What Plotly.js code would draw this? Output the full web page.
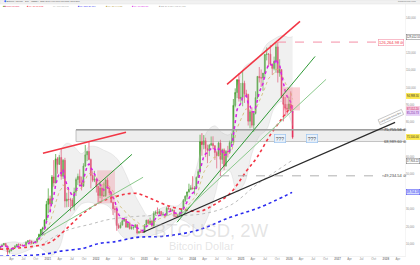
<!DOCTYPE html>
<html><head><meta charset="utf-8">
<script src="https://cdn.plot.ly/plotly-3.0.1.min.js"></script>
<style>html,body{margin:0;padding:0;background:#fff;}#chart{width:420px;height:265px;}</style>
</head><body><div id="chart"></div>
<script>
// ---- 2-week BTCUSD bars (values in thousands USD), first bar 2020-01-06 ----
const firstBar = '2020-01-06';
const opens = [7.4,8.7,9.4,10.3,8.6,5.4,5.9,6.9,7.7,8.7,9.7,9.5,9.3,9.1,9.2,11.0,11.8,11.7,10.3,10.7,11.4,13.0,15.5,18.4,19.2,23.8,
32.8,36.0,33.1,48.6,45.1,59.0,55.8,59.8,49.0,58.2,34.7,35.8,35.5,35.3,31.8,39.9,47.1,48.9,45.2,43.2,54.9,61.3,63.3,58.6,49.4,46.7,
47.3,43.1,37.9,42.2,37.7,37.8,46.8,42.2,39.4,34.0,30.3,29.9,20.6,19.3,20.8,23.3,24.3,19.6,21.8,18.8,19.4,19.6,20.9,16.3,17.1,16.7,
16.6,20.9,23.7,21.8,23.2,20.6,27.5,28.3,27.6,28.7,26.8,27.1,26.3,30.6,30.3,29.3,29.4,26.0,25.8,26.3,27.9,30.0,35.0,37.4,39.9,41.4,
42.3,41.7,42.0,48.3,51.7,68.9,67.2,69.4,64.9,63.9,66.9,67.8,66.6,62.7,60.8,68.2,58.7,64.2,54.8,63.3,63.0,68.4,68.7,89.8,97.2,104.5,
93.7,94.5,102.6,96.5,96.1,80.7,86.1,78.4,85.2,94.3,106.5,105.7,105.6,108.4,119.1,119.4,119.3,113.5,111.1,115.2,123.5,108.6,110.5,94.5,90.4,88.2,
87.8,90.6,86.6];
const highs = [8.9,9.6,10.4,10.5,9.2,6.9,7.3,7.8,9.4,10.0,10.4,10.0,9.8,9.4,11.4,12.1,12.5,11.8,11.2,11.7,13.3,15.9,18.5,19.9,24.2,34.8,
42.0,37.8,49.7,58.3,61.8,60.0,61.2,64.9,58.9,59.6,39.5,41.3,36.6,36.4,42.4,48.2,50.5,52.9,48.8,56.5,67.0,63.7,69.0,59.2,51.9,52.1,
47.9,43.5,45.8,44.5,45.4,47.6,48.2,42.4,40.0,34.2,32.0,31.6,21.8,22.5,24.3,25.2,24.4,22.4,22.8,20.4,20.0,21.5,21.5,17.4,18.4,17.1,
21.4,23.9,24.2,25.2,23.9,28.8,29.2,31.0,30.0,29.0,28.4,27.1,31.4,31.8,30.4,30.2,29.7,28.1,27.4,28.6,30.2,35.9,38.0,40.2,44.7,43.8,
49.0,43.3,48.9,52.9,72.9,73.8,72.7,71.2,67.2,67.6,71.9,72.0,66.8,63.7,68.9,70.0,64.9,65.1,64.1,66.5,69.5,73.6,93.5,99.6,105.0,108.3,
102.7,109.6,104.0,98.8,96.5,87.4,88.7,86.0,97.9,106.7,111.9,110.5,108.5,119.5,123.2,119.8,124.5,114.0,117.9,125.7,126.26,116.4,110.6,96.6,94.6,90.5,
94.8,97.9,90.0];
const lows = [7.0,8.2,9.1,8.2,3.8,4.5,5.9,6.5,7.6,8.2,8.6,9.0,8.9,8.9,9.1,10.6,11.1,9.9,10.2,10.5,11.2,12.9,14.8,16.2,18.0,21.8,
27.7,28.8,33.0,43.0,44.9,50.4,55.8,47.0,47.4,31.0,31.1,31.3,28.8,31.1,29.3,37.6,43.9,43.0,40.8,42.9,54.3,57.7,58.2,42.0,45.6,45.6,
39.6,33.0,36.3,34.3,37.1,37.1,41.6,38.0,33.7,26.7,28.0,17.6,18.6,18.9,20.8,22.7,19.6,19.5,18.3,18.2,18.2,19.3,15.5,15.9,16.3,16.4,
16.5,20.4,21.6,21.5,19.6,19.9,26.6,26.9,26.9,25.9,25.9,24.8,26.3,29.7,29.0,28.6,25.2,25.4,24.9,26.1,26.6,29.9,34.1,35.6,39.6,41.0,
41.5,38.5,41.7,48.3,50.6,60.8,64.5,60.0,56.5,60.6,66.6,64.5,58.4,53.5,60.5,49.0,56.1,52.5,54.8,59.8,62.0,66.6,66.8,88.7,94.0,92.0,
91.2,89.3,91.2,94.9,78.2,76.6,77.0,74.5,84.6,93.4,103.0,100.4,98.2,105.3,115.7,112.0,112.6,107.3,110.0,108.6,103.0,106.3,94.0,80.6,83.8,84.4,
86.9,86.0,70.5];
const closes = [8.7,9.4,10.3,8.6,5.4,5.9,6.9,7.7,8.7,9.7,9.5,9.3,9.1,9.2,11.0,11.8,11.7,10.3,10.7,11.4,13.0,15.5,18.4,19.2,23.8,32.8,
36.0,33.1,48.6,45.1,59.0,55.8,59.8,49.0,58.2,34.7,35.8,35.5,35.3,31.8,39.9,47.1,48.9,45.2,43.2,54.9,61.3,63.3,58.6,49.4,46.7,47.3,
43.1,37.9,42.2,37.7,37.8,46.8,42.2,39.4,34.0,30.3,29.9,20.6,19.3,20.8,23.3,24.3,19.6,21.8,18.8,19.4,19.6,20.9,16.3,17.1,16.7,16.6,
20.9,23.7,21.8,23.2,20.6,27.5,28.3,27.6,28.7,26.8,27.1,26.3,30.6,30.3,29.3,29.4,26.0,25.8,26.3,27.9,30.0,35.0,37.4,39.9,41.4,42.3,
41.7,42.0,48.3,51.7,68.9,67.2,69.4,64.9,63.9,66.9,67.8,66.6,62.7,60.8,68.2,58.7,64.2,54.8,63.3,63.0,68.4,68.7,89.8,97.2,104.5,93.7,
94.5,102.6,96.5,96.1,80.7,86.1,78.4,85.2,94.3,106.5,105.7,105.6,108.4,119.1,119.4,119.3,113.5,111.1,115.2,123.5,108.6,110.5,94.5,90.4,88.2,87.8,
90.6,86.6,71.5];
// fast average (magenta dotted), one value per bar
const maFast = [8.2,8.6,9.1,8.9,7.9,7.3,7.2,7.3,7.7,8.3,8.7,8.9,8.9,9.0,9.6,10.3,10.7,10.6,10.6,10.9,11.5,12.7,14.4,15.9,18.2,22.6,
26.6,28.6,34.6,37.7,44.1,47.6,51.3,50.6,52.9,47.4,43.9,41.4,39.6,37.3,38.1,40.8,43.2,43.8,43.6,47.0,51.3,54.9,56.0,54.0,51.8,50.5,
48.3,45.2,44.3,42.3,41.0,42.7,42.6,41.6,39.3,36.6,34.6,30.4,27.1,25.2,24.6,24.5,23.0,22.6,21.5,20.9,20.5,20.6,19.3,18.6,18.0,17.6,
18.6,20.1,20.6,21.4,21.2,23.1,24.7,25.6,26.5,26.6,26.8,26.6,27.8,28.6,28.8,29.0,28.1,27.4,27.1,27.3,28.1,30.2,32.4,34.6,36.6,38.3,
39.3,40.1,42.6,45.3,52.4,56.8,60.6,61.9,62.5,63.8,65.0,65.5,64.7,63.5,64.9,63.0,63.4,60.8,61.5,62.0,63.9,65.3,72.7,80.0,87.4,89.3,
90.9,94.4,95.0,95.3,90.9,89.5,86.2,85.9,88.4,93.8,97.4,99.9,102.4,107.4,111.0,113.5,113.5,112.8,113.5,116.5,114.1,113.0,107.5,102.4,98.1,95.0,
93.7,91.6,85.6];
// slower average (tan dotted), one value per bar
const maMid = [8.5,8.7,8.9,8.9,8.4,8.0,7.8,7.8,8.0,8.2,8.4,8.6,8.6,8.7,9.1,9.5,9.8,9.9,10.0,10.2,10.6,11.4,12.4,13.4,15.0,17.7,
20.4,22.3,26.3,29.1,33.6,36.9,40.3,41.6,44.1,42.7,41.7,40.8,40.0,38.7,38.9,40.1,41.4,42.0,42.2,44.1,46.7,49.2,50.6,50.4,49.9,49.5,
48.5,46.9,46.2,44.9,43.9,44.3,44.0,43.3,41.9,40.2,38.6,35.9,33.4,31.5,30.3,29.4,27.9,27.0,25.8,24.8,24.0,23.6,22.5,21.7,20.9,20.3,
20.4,20.9,21.0,21.3,21.2,22.2,23.1,23.8,24.5,24.8,25.2,25.3,26.1,26.8,27.1,27.5,27.3,27.0,26.9,27.1,27.5,28.6,30.0,31.5,33.0,34.4,
35.5,36.4,38.2,40.2,44.5,47.9,51.2,53.2,54.8,56.6,58.3,59.5,60.0,60.1,61.3,60.9,61.4,60.4,60.9,61.2,62.3,63.2,67.2,71.7,76.6,79.2,
81.5,84.7,86.4,87.9,86.8,86.7,85.4,85.4,86.7,89.7,92.1,94.1,96.3,99.7,102.7,105.2,106.4,107.1,108.3,110.6,110.3,110.3,108.0,105.3,102.7,100.5,
99.0,97.1,93.3];
// slow averages
const redDates = ['2020-01-05','2020-09-10','2021-01-17','2021-06-18','2021-09-24','2022-01-30','2022-04-16','2022-08-07','2022-11-06','2023-02-13','2023-06-21','2023-11-19','2024-02-26','2024-06-03','2024-10-10','2025-02-15','2025-05-02','2025-08-08','2025-11-07','2026-01-22'];
const redVals = [6.9,8.6,10.9,20.7,27.6,34.0,36.3,38.6,39.1,36.3,32.2,29.4,28.8,32.2,39.1,52.4,59.9,72.5,82.3,89.8];
const grayDates = ['2020-12-10','2021-05-26','2021-11-16','2022-04-16','2022-11-29','2023-07-14','2024-02-26','2024-10-10','2025-05-02','2026-01-22'];
const grayVals = [10.9,17.8,21.3,24.2,26.0,26.6,27.1,32.2,44.3,58.1];
const blueDates = ['2020-01-05','2020-09-10','2021-01-17','2021-04-03','2021-09-24','2022-01-30','2022-05-09','2022-11-06','2023-05-22','2024-02-03','2024-10-10','2025-05-25','2026-01-22'];
const blueVals = [2.9,3.5,4.6,5.8,7.5,10.4,11.1,13.8,14.4,17.8,25.3,31.1,39.7];
// band (light grey fill)
const bandDates = ['2020-01-06','2020-03-02','2020-04-27','2020-06-22','2020-08-17','2020-10-12','2020-12-07','2021-02-01','2021-03-29','2021-05-24','2021-07-19','2021-09-13','2021-11-08','2022-01-03','2022-02-28','2022-04-25','2022-06-20','2022-08-15','2022-10-10','2022-12-05','2023-01-30','2023-03-27','2023-05-22','2023-07-17','2023-09-11','2023-11-06','2024-01-01','2024-02-26','2024-04-22','2024-06-17','2024-08-12','2024-10-07','2024-12-02','2025-01-27','2025-03-24','2025-05-19','2025-07-14','2025-09-08','2025-11-03','2025-12-29','2026-01-26'];
const bandUpper = [9.8,10.8,11.2,10.6,12.2,12.4,19.0,40.0,62.0,68.0,66.0,62.0,66.0,66.0,64.0,62.0,58.0,50.0,40.0,32.0,26.0,29.0,31.0,32.0,32.0,37.0,46.0,62.0,75.0,78.0,74.0,73.0,100.0,112.0,115.0,118.0,125.0,128.0,130.0,129.0,129.4];
const bandLower = [7.0,5.5,3.9,5.0,6.8,8.8,6.0,3.5,8.0,22.0,28.0,33.0,34.0,33.0,33.0,30.0,17.0,13.0,14.0,14.0,14.5,15.5,17.0,20.0,24.0,23.0,20.0,18.0,25.0,38.0,52.0,52.0,40.0,45.0,62.0,72.0,76.0,88.0,92.0,84.0,78.0];
// axis ticks (labels hidden behind the coloured price tags are left out)
const xTickVals = ['2020-04-01','2020-07-01','2020-10-01','2021-01-01','2021-04-01','2021-07-01','2021-10-01','2022-01-01','2022-04-01','2022-07-01','2022-10-01','2023-01-01','2023-04-01','2023-07-01','2023-10-01','2024-01-01','2024-04-01','2024-07-01','2024-10-01','2025-01-01','2025-04-01','2025-07-01','2025-10-01','2026-01-01','2026-04-01','2026-07-01','2026-10-01','2027-01-01','2027-04-01','2027-07-01','2027-10-01','2028-01-01','2028-04-01'];
const xTickText = ['Apr','Jul','Oct','<b>2021</b>','Apr','Jul','Oct','<b>2022</b>','Apr','Jul','Oct','<b>2023</b>','Apr','Jul','Oct','<b>2024</b>','Apr','Jul','Oct','<b>2025</b>','Apr','Jul','Oct','<b>2026</b>','Apr','Jul','Oct','<b>2027</b>','Apr','Jul','Oct','<b>2028</b>','Apr'];
const yTickVals = [10,20,30,50,60,80,90,100,110,120,140];
const yTickText = ['10,000','20,000','30,000','50,000','60,000','80,000','90,000','100,000','110,000','120,000','140,000'];
// drawings: [date, price]
const redLine1 = [['2020-11-25',62.2],['2022-08-15',74.3]];
const redLine2 = [['2024-09-17',101.9],['2026-03-23',138.2]];
const greenDark1 = [['2020-10-11',13.2],['2022-09-29',61.6]];
const greenLight1 = [['2020-10-11',13.2],['2022-12-22',48.4]];
const greenDark2 = [['2023-09-05',22.5],['2026-07-15',118.0]];
const greenLight2 = [['2023-09-27',26.5],['2026-10-06',104.8]];
const blackLine = [['2022-12-22',16.7],['2028-03-11',80.0]];
const zoneLevels = [68.9896, 75.75556];
const zoneStart = '2021-08-02';
const athLevel = 126.26498, athStart = '2025-09-30', athEnd = '2027-11-03';
const supLevel = 49.23454, supStart = '2024-07-26', supEnd = '2027-12-19';
const pinkBox1 = [['2022-01-08',33.4],['2022-05-24',52.4]];
const pinkBox2 = [['2025-11-15',86.9],['2026-03-23',100.2]];
const qMarks = [['2025-10-23',70.6],['2026-06-22',70.6]];

const barDates = closes.map((_, i) => new Date(Date.parse(firstBar) + i * 14 * 86400000).toISOString().slice(0, 10));

const F = 'Liberation Sans, Arial, sans-serif';
const traces = [
  {x: bandDates, y: bandLower, type: 'scatter', mode: 'lines', line: {width: 0.4, color: 'rgba(170,170,170,0.5)', shape: 'spline'}, hoverinfo: 'skip'},
  {x: bandDates, y: bandUpper, type: 'scatter', mode: 'lines', fill: 'tonexty', fillcolor: 'rgba(200,200,200,0.28)', line: {width: 0.4, color: 'rgba(170,170,170,0.5)', shape: 'spline'}, hoverinfo: 'skip'},
  {x: blueDates, y: blueVals, type: 'scatter', mode: 'lines', line: {color: '#2b2bf0', width: 1.6, dash: 'dot', shape: 'spline'}, hoverinfo: 'skip'},
  {x: grayDates, y: grayVals, type: 'scatter', mode: 'lines', line: {color: '#bdbdbd', width: 1, dash: 'dot', shape: 'spline'}, hoverinfo: 'skip'},
  {x: redDates, y: redVals, type: 'scatter', mode: 'lines', line: {color: '#f23645', width: 1.6, dash: 'dot', shape: 'spline'}, hoverinfo: 'skip'},
  {x: barDates, y: maMid, type: 'scatter', mode: 'lines', line: {color: '#cdb96a', width: 0.8, dash: 'dot'}, hoverinfo: 'skip'},
  {x: barDates, open: opens, high: highs, low: lows, close: closes, type: 'candlestick',
   increasing: {line: {color: '#3f9d2a', width: 0.7}, fillcolor: '#43a52c'},
   decreasing: {line: {color: '#e8305a', width: 0.7}, fillcolor: '#e6194b'}, hoverinfo: 'skip'},
  {x: barDates, y: maFast, type: 'scatter', mode: 'lines', line: {color: '#d91ee6', width: 1.5, dash: 'dot'}, hoverinfo: 'skip'}
];

function seg(p, color, width, dash) {
  return {type: 'line', xref: 'x', yref: 'y', x0: p[0][0], y0: p[0][1], x1: p[1][0], y1: p[1][1], line: {color: color, width: width, dash: dash || 'solid'}};
}
const shapes = [
  {type: 'rect', xref: 'paper', yref: 'paper', x0: 0, x1: 1.04, y0: 1, y1: 1.016, fillcolor: '#f1f1f1', line: {color: '#e2e2e2', width: 0.5}},
  {type: 'rect', xref: 'x', yref: 'y', x0: zoneStart, x1: '2028-08-01', y0: zoneLevels[0], y1: zoneLevels[1], fillcolor: 'rgba(195,195,195,0.28)', line: {color: '#b5b5b5', width: 0.8}, layer: 'below'},
  {type: 'line', xref: 'x', yref: 'y', x0: zoneStart, x1: '2028-08-01', y0: zoneLevels[1], y1: zoneLevels[1], line: {color: '#9e9e9e', width: 1.3}},
  {type: 'rect', xref: 'x', yref: 'y', x0: pinkBox1[0][0], x1: pinkBox1[1][0], y0: pinkBox1[0][1], y1: pinkBox1[1][1], fillcolor: 'rgba(242,120,135,0.28)', line: {width: 0}},
  {type: 'rect', xref: 'x', yref: 'y', x0: pinkBox2[0][0], x1: pinkBox2[1][0], y0: pinkBox2[0][1], y1: pinkBox2[1][1], fillcolor: 'rgba(242,120,135,0.35)', line: {width: 0}},
  seg(redLine1, '#f23645', 1.5), seg(redLine2, '#f23645', 1.5),
  seg(greenDark1, '#2f9a36', 1), seg(greenLight1, '#8bc98c', 1),
  seg(greenDark2, '#2f9a36', 1), seg(greenLight2, '#8bc98c', 1),
  seg(blackLine, '#2a2a2a', 1.2),
  {type: 'line', xref: 'x', yref: 'y', x0: athStart, x1: athEnd, y0: athLevel, y1: athLevel, line: {color: '#f48fa6', width: 1, dash: 'dash'}},
  {type: 'line', xref: 'x', yref: 'y', x0: supStart, x1: supEnd, y0: supLevel, y1: supLevel, line: {color: '#b0b0b0', width: 1, dash: 'dash'}}
];

function axisBox(price, text, bg, fg, border) {
  return {xref: 'paper', yref: 'y', x: 1, xanchor: 'left', xshift: 0.5, y: price, yanchor: 'middle', text: text, showarrow: false,
    font: {family: F, size: 2.7, color: fg}, bgcolor: bg, bordercolor: border || bg, borderwidth: 0.4, borderpad: 0.4};
}
function paneLabel(price, text, color, border) {
  const a = {xref: 'paper', yref: 'y', x: 0.943, xanchor: 'left', y: price, yanchor: 'middle', text: text, showarrow: false,
    font: {family: F, size: 4, color: color}};
  if (border) { a.bordercolor = border; a.borderwidth = 0.6; a.bgcolor = '#fff'; a.borderpad = 0.5; a.x = 0.934; }
  return a;
}
function legendItem(x, text, color) {
  return {xref: 'paper', yref: 'paper', x: x, xanchor: 'left', y: 0.99, yanchor: 'middle', text: text, showarrow: false,
    font: {family: F, size: 2.3, color: color}};
}
const annotations = [
  {xref: 'paper', yref: 'paper', x: 0.523, y: 0.05, text: 'BTCUSD, 2W', showarrow: false, font: {family: F, size: 18.5, color: 'rgba(185,185,185,0.38)'}},
  {xref: 'paper', yref: 'paper', x: 0.497, y: 0.006, text: 'Bitcoin Dollar', showarrow: false, font: {family: F, size: 11, color: 'rgba(185,185,185,0.38)'}},
  {xref: 'paper', yref: 'paper', x: 0.004, xanchor: 'left', y: 1.008, yanchor: 'middle', text: '<span style="color:#2962ff">◆</span> Bitcoin / Dollar · 2W · INDEX  O86,598 H90,000 L70,500 C71,500', showarrow: false, font: {family: F, size: 2.5, color: '#555'}},
  {xref: 'paper', yref: 'paper', x: 1.033, xanchor: 'right', y: 1.008, yanchor: 'middle', text: 'tradingview.com', showarrow: false, font: {family: F, size: 2.5, color: '#777'}},
  legendItem(0.002, '<span style="color:#43a52c">■</span><span style="color:#e6194b">■</span> Price 71,500', '#e6194b'),
  legendItem(0.062, '<span style="color:#f23645">■</span> MA 50 89,812', '#f23645'),
  legendItem(0.125, 'MA 100 58,103', '#aaaaaa'),
  legendItem(0.188, '<span style="color:#2b2bf0">■</span> MA 200 39,704', '#2b2bf0'),
  legendItem(0.256, '<span style="color:#b8a040">■</span> MA 20 94,988', '#b8a040'),
  legendItem(0.322, '<span style="color:#d91ee6">■</span> MA 10 85,610', '#d91ee6'),
  legendItem(0.388, '<span style="color:#aaa">■</span> BB 20 2 129,412 84,021', '#aaaaaa'),
  {xref: 'x', yref: 'y', x: qMarks[0][0], y: qMarks[0][1], text: '???', showarrow: false, font: {family: F, size: 5, color: '#555'}, bgcolor: 'rgba(232,242,253,0.9)', bordercolor: '#9cc3f0', borderwidth: 0.7, borderpad: 1},
  {xref: 'x', yref: 'y', x: qMarks[1][0], y: qMarks[1][1], text: '???', showarrow: false, font: {family: F, size: 5, color: '#555'}, bgcolor: 'rgba(232,242,253,0.9)', bordercolor: '#9cc3f0', borderwidth: 0.7, borderpad: 1},
  paneLabel(athLevel, '126,264.98 ⊘', '#f23645', '#f48fa6'),
  paneLabel(zoneLevels[1], '75,755.56 ⊘', '#444'),
  paneLabel(zoneLevels[0], '68,989.60 ⊘', '#444'),
  paneLabel(supLevel, '49,234.54 ⊘', '#444'),
  {xref: 'paper', yref: 'paper', x: 0.966, xanchor: 'center', y: 0.55, yanchor: 'middle', text: 'Long-term trend line', textangle: -24, showarrow: false, font: {family: F, size: 2.6, color: '#555'}, bgcolor: 'rgba(255,255,255,0.8)', bordercolor: '#999', borderwidth: 0.5, borderpad: 0.4},
  axisBox(129.4, '129,412.55', '#ffffff', '#333', '#555'),
  axisBox(94.99, '94,988.30', '#fbe64a', '#333'),
  axisBox(87.5, '87,512.20', '#f8c8dc', '#c2185b'),
  axisBox(85.2, '85,210.73', '#e6cff7', '#7b1fa2'),
  axisBox(71.5, '71,500.00', '#fbe64a', '#333'),
  axisBox(57.9, '57,903.22', '#ffffff', '#333', '#555'),
  axisBox(39.7, '39,704.18', '#d6dcff', '#2b2bf0', '#2b2bf0')
];

const layout = {
  width: 420, height: 265,
  margin: {l: 0, r: 15, t: 4, b: 9, pad: 0},
  paper_bgcolor: '#ffffff', plot_bgcolor: '#ffffff',
  showlegend: false,
  font: {family: F},
  xaxis: {type: 'date', range: ['2020-01-05', '2028-05-25'], tickvals: xTickVals, ticktext: xTickText,
    tickfont: {family: F, size: 3, color: '#888'}, showgrid: false, zeroline: false, ticks: '',
    showline: true, linecolor: '#e6e6e6', linewidth: 0.5, rangeslider: {visible: false}, fixedrange: true},
  yaxis: {side: 'right', range: [3.05, 148.2], tickvals: yTickVals, ticktext: yTickText,
    tickfont: {family: F, size: 2.7, color: '#888'}, showgrid: false, zeroline: false, ticks: '',
    showline: true, linecolor: '#ececec', linewidth: 0.5, fixedrange: true},
  shapes: shapes,
  annotations: annotations
};
Plotly.newPlot('chart', traces, layout, {displayModeBar: false, staticPlot: true});
</script>
</body></html>
